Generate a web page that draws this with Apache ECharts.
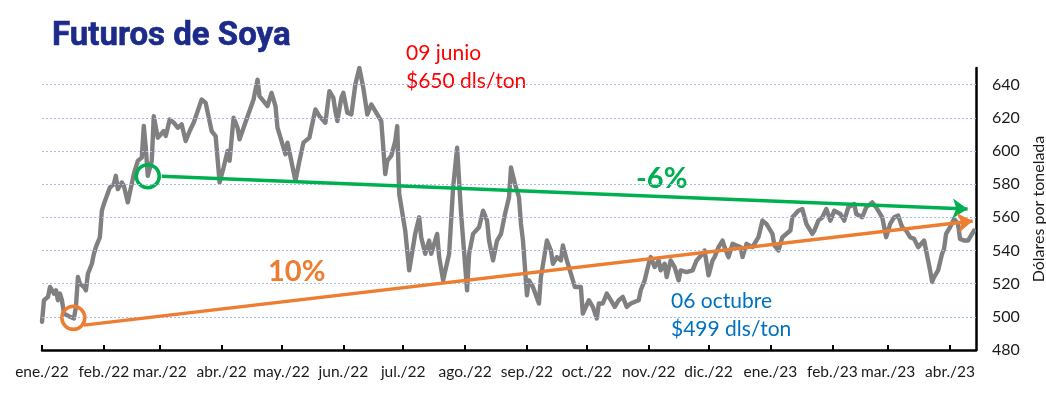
<!DOCTYPE html>
<html>
<head>
<meta charset="utf-8">
<script src="https://cdn.jsdelivr.net/npm/echarts@6/dist/echarts.min.js"></script>
<style>
html,body{margin:0;padding:0;background:#fff;}
#chart{width:1046px;height:396px;}
</style>
</head>
<body>
<div id="chart"></div>
<script>
// Month axis (day offsets from 2022-01-01)
const monthStartDays = [0,31,59,90,120,151,181,212,243,273,304,334,365,396,424,455];
const monthLabels = ['ene./22','feb./22','mar./22','abr./22','may./22','jun./22','jul./22','ago./22','sep./22','oct./22','nov./22','dic./22','ene./23','feb./23','mar./23','abr./23'];
const yTicks = [480,500,520,540,560,580,600,620,640];
const gridValues = [500,520,540,560,580,600,620,640];

// Soybean futures price (USD/ton), by day offset from 2022-01-01
const priceDays = [0,1,3,4,6,7,8,9,10,11,14,16,17,18,19,21,22,23,25,26,27,29,30,31,32,34,36,37,38,40,41,43,46,48,50,51,52,53,55,56,58,61,62,64,66,68,70,72,74,76,78,80,82,85,87,89,91,93,94,96,98,99,101,106,108,109,113,115,117,118,120,122,123,127,129,131,134,135,137,139,142,144,146,147,148,150,151,153,155,157,159,161,163,165,168,170,172,173,175,177,178,179,182,184,187,189,190,192,194,195,198,199,201,204,206,208,210,213,214,216,219,221,223,224,226,228,230,232,234,235,237,239,240,241,243,244,246,249,250,253,255,256,258,260,261,263,265,267,270,271,274,276,278,279,281,283,285,287,289,291,293,295,296,299,300,302,304,305,307,309,310,312,313,315,317,319,320,323,326,328,331,332,334,336,337,339,341,342,344,346,348,350,351,353,356,359,361,363,366,367,369,371,372,375,376,379,381,383,386,387,389,391,393,395,397,400,402,404,407,408,411,413,416,418,421,422,423,425,427,429,431,433,435,437,439,442,443,445,446,447,449,451,452,453,455,457,459,460,462,464,466,467];
const prices = [497,510,512,518,514,516,510,514,510,502,500,499,506,524,520,518,516,526,532,538,542,548,564,568,568,578,580,585,577,581,579,569,586,594,596,615,602,585,594,621,608,612,609,619,617,614,616,606,612,617,624,631,629,612,609,581,590,600,594,620,614,607,614,631,643,633,627,635,627,614,606,598,605,582,594,605,608,614,625,621,617,636,632,624,618,632,635,623,622,640,650,638,622,628,622,618,586,594,597,606,615,574,552,528,550,560,548,538,546,538,550,536,522,538,578,602,562,516,538,550,554,564,558,546,534,546,550,562,572,590,580,572,556,546,513,522,518,508,524,546,540,532,536,534,543,534,526,518,518,502,510,506,499,508,508,514,510,506,510,512,506,508,507,510,516,522,532,536,530,534,528,532,524,534,530,522,528,527,528,534,538,540,525,534,536,542,546,542,536,544,543,542,536,544,542,548,558,556,550,543,540,548,549,552,560,564,565,556,550,552,558,560,565,558,564,562,558,566,568,562,560,566,569,566,560,554,548,556,560,561,554,552,548,547,542,546,540,528,521,524,528,538,541,550,554,559,556,547,546,546,550,552];

// Trend lines [day, value] and marked points
const trendDown = [[60,584.8],[463.8,565.0]];   // -6%
const trendUp = [[21,495.0],[466.3,557.7]];     // 10%
const circleHigh = [[53,584.8]];
const circleLow = [[15.7,499.4]];

const priceData = priceDays.map((d,i)=>[d,prices[i]]);

const chart = echarts.init(document.getElementById('chart'), null, {renderer:'canvas'});
const FONT = 'Lato';
chart.setOption({
  animation:false,
  backgroundColor:'#ffffff',
  grid:{left:42,right:70,top:68,bottom:46,containLabel:false,outerBoundsMode:'none'},
  xAxis:{
    type:'value', min:0, max:468,
    axisLine:{show:true,onZero:false,lineStyle:{color:'#000',width:2.5}},
    axisTick:{show:true,inside:true,length:5,lineStyle:{color:'#000',width:2},customValues:monthStartDays},
    axisLabel:{customValues:monthStartDays,margin:14,color:'#1a1a1a',fontFamily:FONT,fontSize:15.5,
      formatter:(v)=>{const i=monthStartDays.indexOf(v);return i>=0?monthLabels[i]:'';}},
    splitLine:{show:false}
  },
  yAxis:{
    type:'value', position:'right', min:480, max:650,
    axisLine:{show:true,onZero:false,lineStyle:{color:'#000',width:2.5}},
    axisTick:{show:false},
    axisLabel:{customValues:yTicks,margin:16,color:'#1a1a1a',fontFamily:FONT,fontSize:16},
    splitLine:{show:false},
    name:'Dólares por tonelada', nameLocation:'middle', nameRotate:90, nameGap:43,
    nameTextStyle:{color:'#1a1a1a',fontFamily:FONT,fontSize:16}
  },
  series:[
    {
      type:'line', data:priceData, symbol:'none', silent:true,
      lineStyle:{color:'#808080',width:4.4,cap:'round',join:'round'},
      markLine:{silent:true,symbol:['none','none'],label:{show:false},
        lineStyle:{color:'#a9bfe2',type:[2,2],width:1},
        data:gridValues.map(v=>({yAxis:v}))},
      z:2
    },
    {
      type:'line', data:[], silent:true,
      markLine:{silent:true,symbol:['none','arrow'],symbolSize:15,label:{show:false},
        lineStyle:{color:'#00b050',width:3.5,type:'solid'},
        itemStyle:{color:'#00b050'},
        data:[[{coord:trendDown[0]},{coord:trendDown[1]}]]},
      z:3
    },
    {
      type:'line', data:[], silent:true,
      markLine:{silent:true,symbol:['none','arrow'],symbolSize:15,label:{show:false},
        lineStyle:{color:'#ed7d31',width:3.5,type:'solid'},
        itemStyle:{color:'#ed7d31'},
        data:[[{coord:trendUp[0]},{coord:trendUp[1]}]]},
      z:3
    },
    {
      type:'scatter', data:circleHigh, symbol:'circle', symbolSize:23, silent:true,
      itemStyle:{color:'rgba(255,255,255,0)',borderColor:'#00b050',borderWidth:3.5,opacity:1}, z:4
    },
    {
      type:'scatter', data:circleLow, symbol:'circle', symbolSize:23, silent:true,
      itemStyle:{color:'rgba(255,255,255,0)',borderColor:'#ed7d31',borderWidth:3.5,opacity:1}, z:4
    }
  ],
  graphic:[
    {type:'text',style:{x:52,y:37,text:'Futuros de Soya',fill:'#1c2b8a',font:'bold 33px Roboto',verticalAlign:'middle',stroke:'#1c2b8a',lineWidth:0.6}},
    {type:'text',style:{x:406,y:53,text:'09 junio',fill:'#ff0000',font:'21px Lato',verticalAlign:'middle'}},
    {type:'text',style:{x:406,y:81,text:'$650 dls/ton',fill:'#ff0000',font:'21px Lato',verticalAlign:'middle'}},
    {type:'text',style:{x:671,y:301,text:'06 octubre',fill:'#0070c0',font:'21px Lato',verticalAlign:'middle'}},
    {type:'text',style:{x:671,y:329,text:'$499 dls/ton',fill:'#0070c0',font:'21px Lato',verticalAlign:'middle'}},
    {type:'text',style:{x:636,y:179,text:'-6%',fill:'#00b050',font:'bold 29px Lato',verticalAlign:'middle'}},
    {type:'text',style:{x:268,y:272,text:'10%',fill:'#ed7d31',font:'bold 29px Lato',verticalAlign:'middle'}}
  ]
});
</script>
</body>
</html>
